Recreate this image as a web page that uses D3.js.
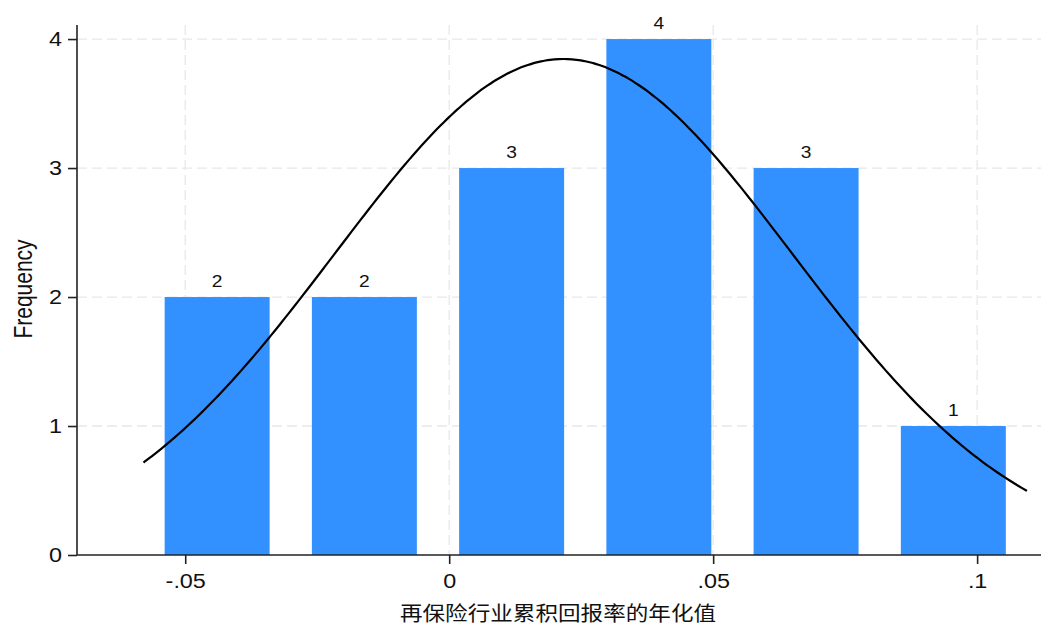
<!DOCTYPE html>
<html>
<head>
<meta charset="utf-8">
<script src="https://cdn.jsdelivr.net/npm/d3@7/dist/d3.min.js"></script>
<style>
  html, body { margin: 0; padding: 0; background: #fff; }
  svg { display: block; }
  text { font-family: "Liberation Sans", Arial, Helvetica, sans-serif; fill: #111; }
</style>
</head>
<body>
<svg id="chart" width="1054" height="636"></svg>
<script>
// ---- data ----
const binCounts = [2, 2, 3, 4, 3, 1];
const binStart = -0.0579;
const binWidth = 0.02789;
const barFraction = 0.713;        // bar width share of bin (gap)
const normalMean = 0.02165;
const normalSD = 0.0434;
const nObs = 15;
const xTickValues = [-0.05, 0, 0.05, 0.1];
const xTickLabels = ["-.05", "0", ".05", ".1"];
const yTickValues = [0, 1, 2, 3, 4];
const xTitle = "再保险行业累积回报率的年化值";
const yTitle = "Frequency";

// ---- layout ----
const svg = d3.select("#chart");
const plotL = 77, plotR = 1041, plotT = 25, plotB = 555;
const x = d3.scaleLinear().domain([-0.0705, 0.1121]).range([plotL, plotR]);
const y = d3.scaleLinear().domain([0, 4.109]).range([plotB, plotT]);
const stretch = 1.2;
const gridColor = "#e8e8e8";
const axisColor = "#222";

const bins = binCounts.map((c, i) => ({
  x0: binStart + i * binWidth,
  x1: binStart + (i + 1) * binWidth,
  count: c
}));

// gridlines
const grid = svg.append("g");
grid.selectAll("line.hg").data(yTickValues.filter(v => v > 0)).join("line")
  .attr("class", "hg")
  .attr("x1", plotL).attr("x2", plotR)
  .attr("y1", d => y(d)).attr("y2", d => y(d))
  .attr("stroke", gridColor).attr("stroke-width", 1.3)
  .attr("stroke-dasharray", "10,5");
grid.selectAll("line.vg").data(xTickValues).join("line")
  .attr("class", "vg")
  .attr("x1", d => x(d)).attr("x2", d => x(d))
  .attr("y1", plotT).attr("y2", plotB)
  .attr("stroke", gridColor).attr("stroke-width", 1.3)
  .attr("stroke-dasharray", "10,5");

// bars
svg.append("g").selectAll("rect").data(bins).join("rect")
  .attr("x", d => x((d.x0 + d.x1) / 2 - binWidth * barFraction / 2))
  .attr("width", d => x(binWidth * barFraction) - x(0))
  .attr("y", d => y(d.count))
  .attr("height", d => y(0) - y(d.count))
  .attr("fill", "#3391ff");

// bar labels
svg.append("g").selectAll("text").data(bins).join("text")
  .attr("transform", d => `translate(${x((d.x0 + d.x1) / 2)},${y(d.count) - 10}) scale(${stretch},1)`)
  .attr("text-anchor", "middle")
  .style("font-size", "16px")
  .text(d => d.count);

// normal curve
const pdf = v => nObs * binWidth / (normalSD * Math.sqrt(2 * Math.PI)) *
  Math.exp(-0.5 * Math.pow((v - normalMean) / normalSD, 2));
const xs = d3.range(0, 201).map(i => bins[0].x0 + (bins[bins.length - 1].x1 - bins[0].x0) * i / 200);
svg.append("path")
  .datum(xs)
  .attr("d", d3.line().x(d => x(d)).y(d => y(pdf(d))).curve(d3.curveBasis))
  .attr("fill", "none").attr("stroke", "#000").attr("stroke-width", 2.2);

// axes
const xAxisG = svg.append("g").attr("transform", `translate(0,${plotB})`)
  .call(d3.axisBottom(x).tickValues(xTickValues).tickFormat((d, i) => xTickLabels[i]).tickSize(9).tickSizeOuter(0).tickPadding(6));
const yAxisG = svg.append("g").attr("transform", `translate(${plotL},0)`)
  .call(d3.axisLeft(y).tickValues(yTickValues).tickFormat(d3.format("d")).tickSize(9).tickSizeOuter(0).tickPadding(6));

[xAxisG, yAxisG].forEach(g => {
  g.attr("font-size", null).attr("font-family", null);
  g.select(".domain").attr("stroke", axisColor).attr("stroke-width", 1.6);
  g.selectAll(".tick line").attr("stroke", axisColor).attr("stroke-width", 1.6);
  g.selectAll(".tick text").style("font-size", "19.5px").style("fill", "#111")
    .style("font-family", '"Liberation Sans", Arial, sans-serif');
});
xAxisG.select(".domain").attr("d", `M${plotL},0H${plotR}`);
yAxisG.select(".domain").attr("d", `M0,${plotB}V${plotT}`);

// horizontal stretch of tick labels
xAxisG.selectAll(".tick text").attr("y", null).attr("dy", null)
  .attr("transform", `translate(0,33) scale(${stretch},1)`);
yAxisG.selectAll(".tick text").attr("x", null).attr("dy", "0.35em")
  .attr("transform", `translate(-15,0) scale(${stretch},1)`);

// axis titles
svg.append("text")
  .attr("transform", `translate(558,621) scale(1.13,1)`)
  .attr("text-anchor", "middle")
  .style("font-size", "20px")
  .style("font-family", '"Noto Sans CJK SC", "Noto Sans", sans-serif')
  .text(xTitle);
svg.append("text")
  .attr("transform", `translate(32,289) scale(${stretch},1) rotate(-90)`)
  .attr("text-anchor", "middle")
  .style("font-size", "21px")
  .text(yTitle);
</script>
</body>
</html>
